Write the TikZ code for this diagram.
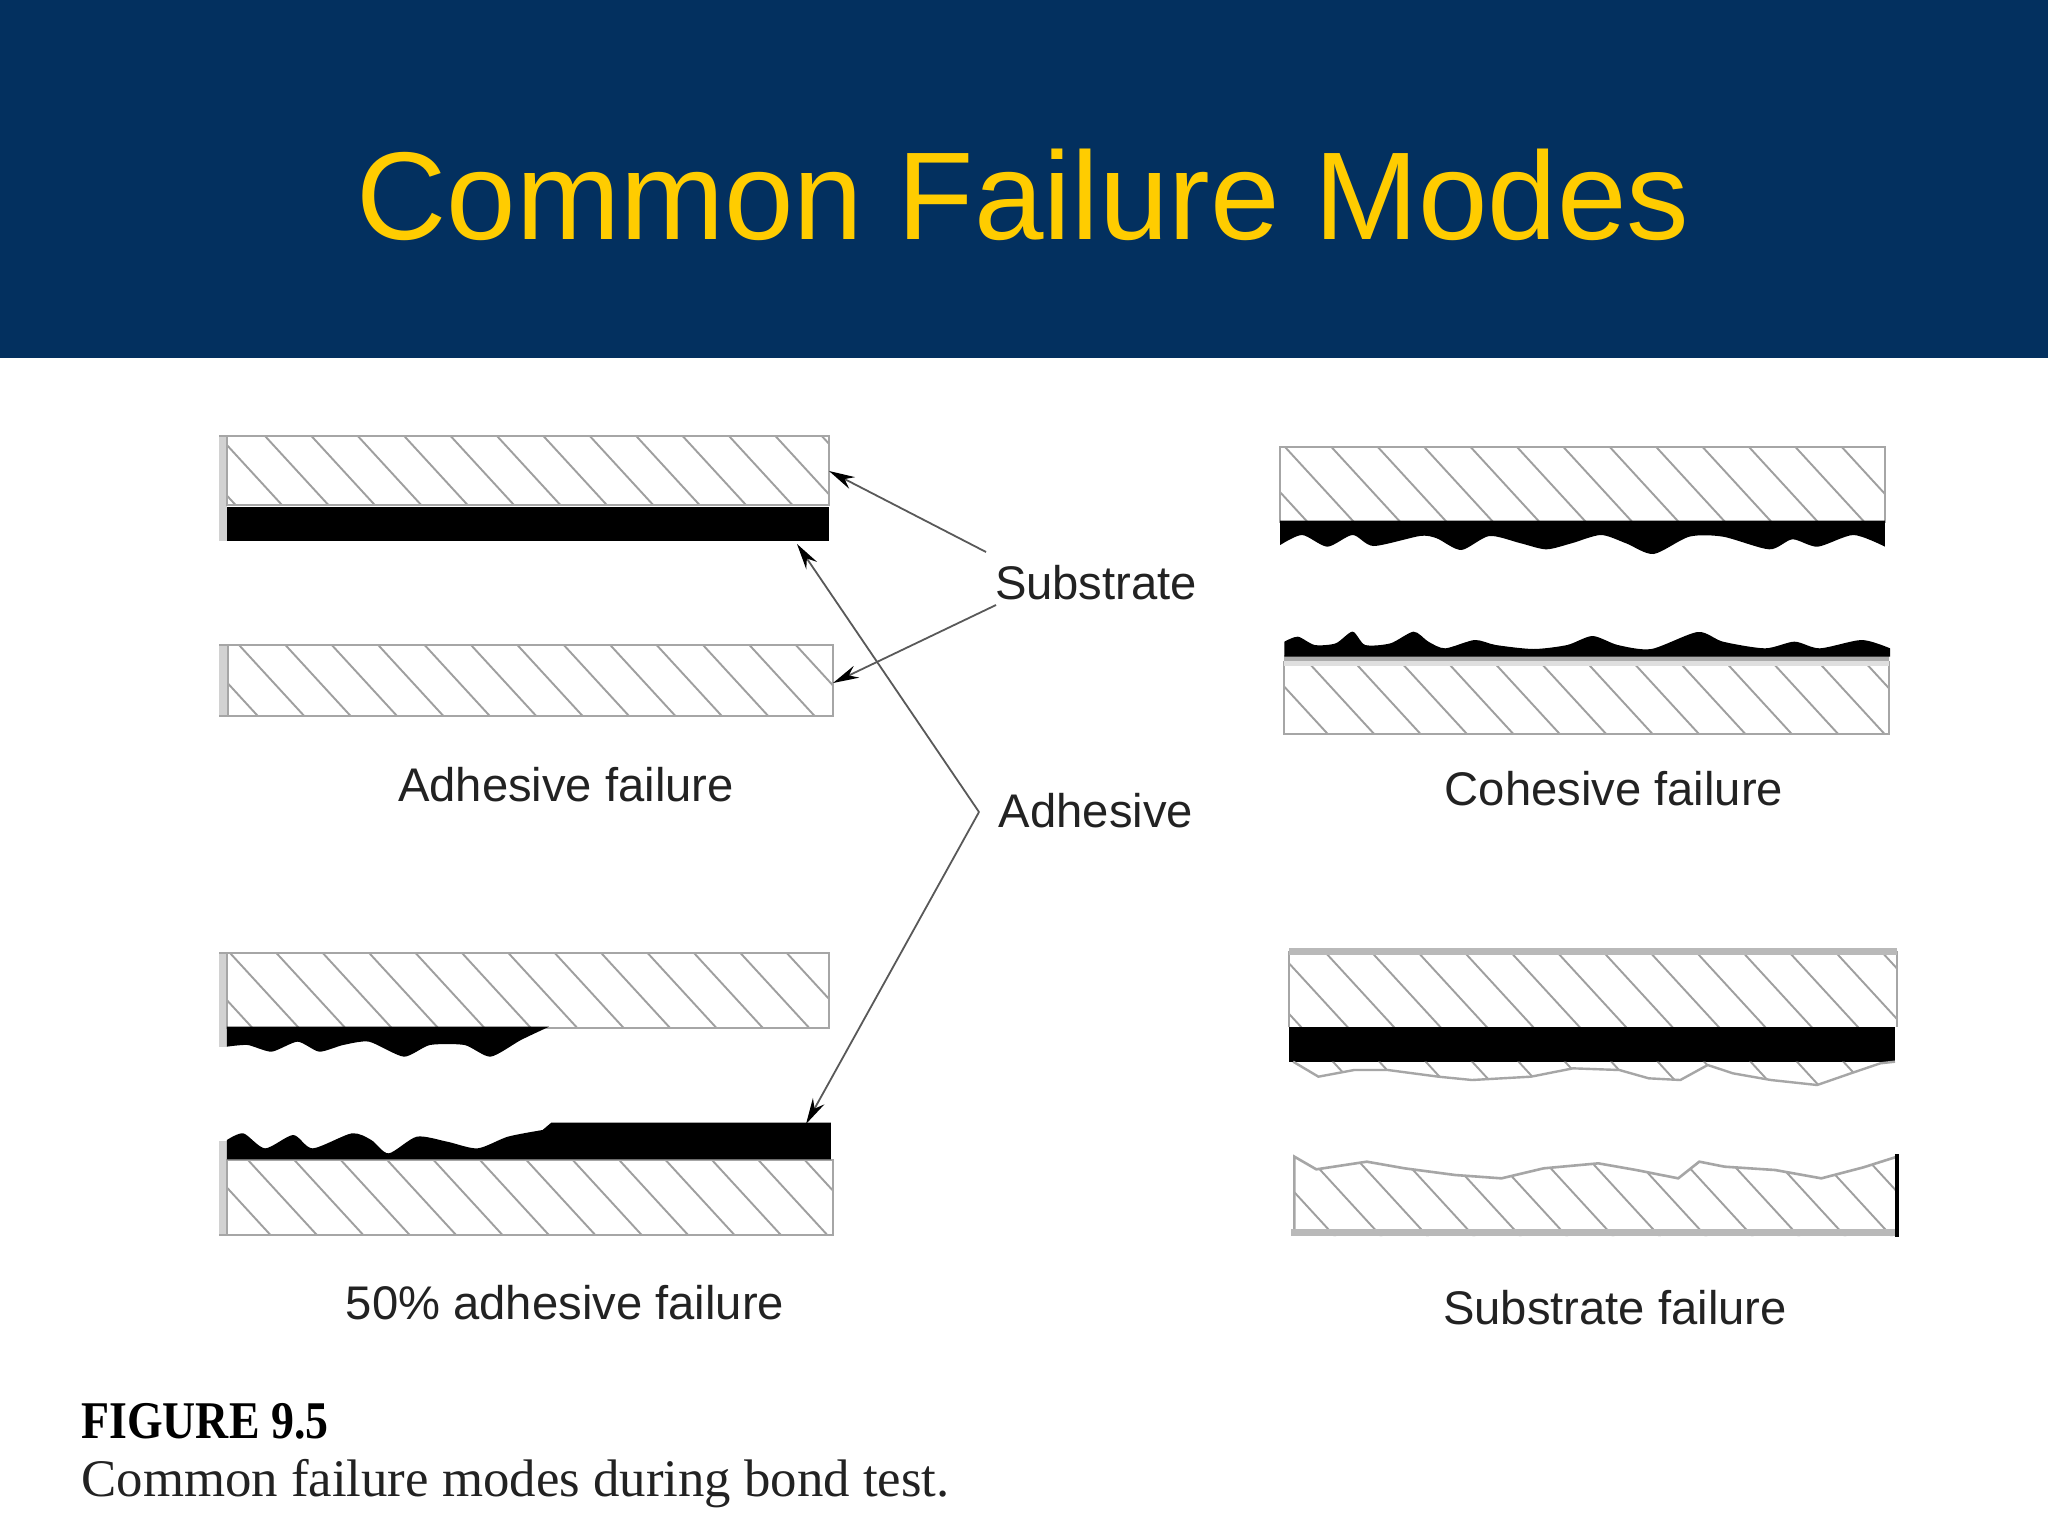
\documentclass[tikz,border=0pt]{standalone}
\usepackage{fontspec}
\setmainfont{Liberation Sans}
\newfontfamily\capfont{Liberation Serif}
\usetikzlibrary{arrows.meta}
\definecolor{navy}{HTML}{03305F}
\definecolor{gold}{HTML}{FFCC00}
\definecolor{inkc}{HTML}{222222}
\tikzset{
  frame/.style={draw=gray!70,line width=1.3pt},
  hatchln/.style={draw=gray!75,line width=0.95pt},
  strip/.style={fill=gray!35,draw=none},
  blk/.style={fill=black,draw=none},
  lbl/.style={font=\fontsize{23.6}{28}\selectfont,text=inkc,inner sep=0pt},
  lead/.style={draw=gray!70!black,line width=0.9pt,-{Stealth[length=13pt,width=6.5pt,black]}},
  zA/.style={shift={(200,420)},xscale=1/2.306,yscale=1/3},
  zC/.style={shift={(1260,430)},xscale=1/2.376,yscale=1/3},
  zB/.style={shift={(200,930)},xscale=1/2.306,yscale=1/3},
  zD/.style={shift={(1270,930)},xscale=1/2.376,yscale=1/3}
}
% hatch lines through (#1,#2) and every 46.4 px along the x axis
\newcommand\hatchlines[2]{%
  \foreach \k in {-5,...,18}
    \draw[hatchln] ({#1+\k*46.4},{#2}) -- ({#1+\k*46.4+147},{#2+160});}
% x0 y0 x1 y1 phase-x
\newcommand\hatchbox[5]{%
  \begin{scope}
    \clip (#1,#2) rectangle (#3,#4);
    \hatchlines{#5}{#2}
  \end{scope}
  \draw[frame] (#1,#2) rectangle (#3,#4);}
\begin{document}
\begin{tikzpicture}[x=0.5pt,y=-0.5pt]
\useasboundingbox (0,0) rectangle (2048,1536);
\fill[white] (0,0) rectangle (2048,1536);
\fill[navy] (0,0) rectangle (2048,358);
\node[font=\fontsize{62.45}{70}\selectfont,text=gold,inner sep=0pt] (title) at (1023,195) {Common Failure Modes};

% Adhesive failure
\fill[strip] (219,435) rectangle (227,541);
\hatchbox{227}{436}{829}{505}{265}
\draw[frame] (219,436) -- (227,436);
\fill[blk] (227,507) rectangle (829,541);
\fill[strip] (219,645) rectangle (228,716);
\hatchbox{228}{645}{833}{716}{239}
\draw[frame] (219,645) -- (228,645) (219,716) -- (228,716);

% Cohesive failure
\hatchbox{1280}{447}{1885}{522}{1285}
\begin{scope}[zC]
\fill[blk] (48,272) -- (1485,272) -- (1485,350) -- plot[smooth,tension=0.45] coordinates {(1485,350) (1410,315) (1325,350) (1265,328) (1210,358) (1100,320) (1020,320) (935,372) (870,340) (810,315) (740,340) (680,358) (620,340) (545,318) (478,360) (420,325) (380,318) (270,348) (220,315) (160,350) (100,315) (48,345)} -- cycle;
\end{scope}
\hatchbox{1284}{662}{1889}{734}{1308}
\fill[gray!25] (1284,660) rectangle (1889,666);
\fill[gray!65] (1284,655) rectangle (1889,661);
\begin{scope}[zC]
\fill[blk] (58,680) -- (58,635) -- plot[smooth,tension=0.45] coordinates {(58,635) (90,620) (130,645) (180,640) (220,605) (250,645) (310,640) (365,605) (400,635) (440,655) (510,630) (560,645) (650,657) (730,645) (790,618) (850,645) (930,657) (1040,606) (1100,635) (1200,655) (1270,635) (1330,655) (1430,630) (1497,655)} -- (1497,680) -- cycle;
\end{scope}

% 50% adhesive failure
\fill[strip] (219,953) rectangle (227,1047);
\hatchbox{227}{953}{829}{1028}{230}
\draw[frame] (219,953) -- (227,953);
\begin{scope}[zB]
\fill[blk] (62,290) -- (805,290) -- plot[smooth,tension=0.4] coordinates {(805,290) (740,330) (670,380) (610,345) (530,345) (470,380) (390,335) (330,345) (275,365) (225,335) (165,365) (110,345) (62,350)} -- cycle;
\end{scope}
\fill[strip] (219,1141) rectangle (227,1235);
\hatchbox{227}{1160}{833}{1235}{248}
\draw[frame] (219,1235) -- (227,1235);
\begin{scope}[zB]
\fill[blk] (62,688) -- (62,630) -- plot[smooth,tension=0.45] coordinates {(62,630) (100,610) (150,655) (215,615) (260,655) (350,610) (395,630) (435,670) (500,620) (570,635) (640,655) (710,620) (790,600)} -- (810,578) -- (1455,578) -- (1455,688) -- cycle;
\end{scope}

% Substrate failure
\begin{scope}
  \clip (1289,952) rectangle (1897,1027);
  \hatchlines{1325}{952}
\end{scope}
\draw[frame] (1289,1027) -- (1289,952) -- (1897,952) -- (1897,1027);
\fill[gray!55] (1289,948) rectangle (1897,955);
\fill[blk] (1289,1027) rectangle (1895,1062);
\begin{scope}
  \clip[zD] (55,395) -- (115,440) -- (200,420) -- (280,420) -- (400,440) -- (480,450) -- (620,440) -- (720,415) -- (830,420) -- (900,445) -- (975,450) -- (1040,405) -- (1100,430) -- (1190,450) -- (1300,465) -- (1380,430) -- (1450,400) -- (1485,395) -- cycle;
  \hatchlines{1325}{952}
\end{scope}
\begin{scope}[zD]
\draw[draw=gray!70,line width=1.2pt] (55,395) -- (115,440) -- (200,420) -- (280,420) -- (400,440) -- (480,450) -- (620,440) -- (720,415) -- (830,420) -- (900,445) -- (975,450) -- (1040,405) -- (1100,430) -- (1190,450) -- (1300,465) -- (1380,430) -- (1450,400) -- (1485,395);
\end{scope}
\begin{scope}
  \clip[zD] (55,918) -- (58,680) -- (110,718) -- (230,695) -- (320,715) -- (440,735) -- (550,745) -- (650,715) -- (780,700) -- (870,720) -- (970,745) -- (1020,695) -- (1080,710) -- (1200,720) -- (1310,745) -- (1410,712) -- (1490,680) -- (1490,918) -- cycle;
  \hatchlines{1256}{1100}
\end{scope}
\begin{scope}[zD]
\draw[draw=gray!70,line width=1.3pt] (58,905) -- (58,680) -- (110,718) -- (230,695) -- (320,715) -- (440,735) -- (550,745) -- (650,715) -- (780,700) -- (870,720) -- (970,745) -- (1020,695) -- (1080,710) -- (1200,720) -- (1310,745) -- (1410,712) -- (1490,680);
\draw[draw=gray!55,line width=3.4pt] (50,907) -- (1490,907);
\draw[draw=black,line width=2pt] (1490,672) -- (1490,920);
\end{scope}

% Labels
\node[lbl] (substrate) at (1096,583) {Substrate};
\node[lbl] (adhesive) at (1096,811) {Adhesive};
\node[lbl] (lblA) at (566,785) {Adhesive failure};
\node[lbl] (lblC) at (1614,789) {Cohesive failure};
\node[lbl] (lblB) at (565,1303) {50\% adhesive failure};
\node[lbl] (lblD) at (1615,1308) {Substrate failure};

% Connectors
\coordinate (subTailA) at (986,552);
\coordinate (subTailB) at (996,605);
\coordinate (adhTail) at (979,812);
\coordinate (subTipA) at (829,471);
\coordinate (subTipB) at (833,683);
\coordinate (adhTipA) at (797,544);
\coordinate (adhTipB) at (806,1124);
\draw[lead] (subTailA) -- (subTipA);
\draw[lead] (subTailB) -- (subTipB);
\draw[lead] (adhTail) -- (adhTipA);
\draw[lead] (adhTail) -- (adhTipB);

% Caption
\node[anchor=west,inner sep=0pt,font=\capfont\bfseries\fontsize{26.5}{30}\selectfont,xscale=0.865] (capA) at (81,1421) {FIGURE 9.5};
\node[anchor=west,inner sep=0pt,font=\capfont\fontsize{26.4}{30}\selectfont,text=inkc] (capB) at (81,1484) {Common failure modes during bond test.};
\end{tikzpicture}
\end{document}
